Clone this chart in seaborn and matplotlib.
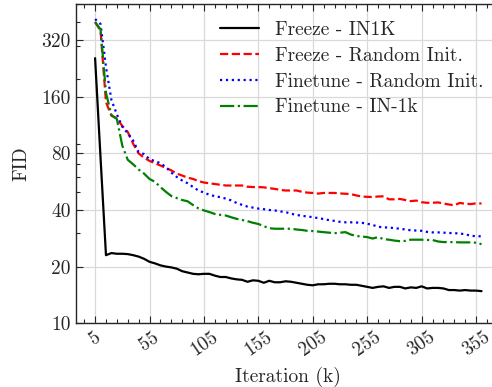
import numpy as np
import pandas as pd
import seaborn as sns
import matplotlib.pyplot as plt
from matplotlib.ticker import AutoMinorLocator

# iterations (k), every 5k from 5 to 360
iters = list(range(5, 361, 5))

freeze_in1k = [
    257, 76, 23.0, 23.6, 23.4, 23.4, 23.3, 23.0, 22.6, 22.0,
    21.2, 20.8, 20.3, 20.0, 19.8, 19.5, 18.9, 18.6, 18.3, 18.2,
    18.3, 18.3, 17.9, 17.6, 17.6, 17.3, 17.1, 17.0, 16.6, 16.9,
    16.8, 16.4, 16.8, 16.5, 16.5, 16.7, 16.6, 16.4, 16.2, 16.0,
    15.9, 16.1, 16.1, 16.2, 16.2, 16.1, 16.1, 16.0, 16.0, 15.8,
    15.6, 15.4, 15.6, 15.7, 15.4, 15.6, 15.6, 15.3, 15.5, 15.4,
    15.7, 15.3, 15.4, 15.4, 15.3, 15.0, 15.0, 14.9, 15.0, 14.9,
    14.9, 14.8,
]

freeze_random = [
    400, 360, 150, 127, 123, 112, 104, 90, 80, 76,
    73, 71, 69, 67, 65, 62.5, 61, 59.5, 58.5, 57,
    56, 55.5, 55, 54.5, 54, 54, 54, 54, 53.2, 53,
    53, 52.8, 52.3, 51.8, 51.2, 50.8, 50.8, 50.8, 50, 49.5,
    49.3, 48.9, 49.3, 49.3, 49.3, 49.0, 48.8, 48.6, 47.8, 47.2,
    47.0, 46.9, 47.2, 47.3, 45.6, 45.6, 45.8, 45.2, 44.6, 44.9,
    44.0, 43.7, 43.7, 43.9, 43.3, 42.8, 42.4, 43.6, 43.2, 43.0,
    43.4, 43.3,
]

finetune_random = [
    415, 391, 231, 154, 129, 111, 102.5, 93.6, 81.3, 79.3,
    74.6, 72.8, 71, 67.7, 63.3, 60, 57.4, 55.5, 53, 50.8,
    49.5, 48.2, 47.4, 46.8, 46.0, 45, 43.6, 42.6, 41.7, 41.2,
    40.7, 40.4, 40, 39.8, 39.3, 39.0, 38.2, 37.7, 37.2, 37.0,
    36.6, 36.2, 35.8, 35.3, 35.0, 34.6, 34.4, 34.4, 34.3, 34.2,
    33.8, 33.3, 32.6, 32.3, 32.3, 32.0, 31.8, 31.5, 31.2, 31.1,
    31.0, 30.6, 30.4, 30.4, 30.3, 30.2, 30.1, 30.0, 29.7, 29.2,
    29.0, 29.0,
]

finetune_in1k = [
    400, 366, 168, 128, 122, 88, 74, 70, 65.7, 62.5,
    58.5, 56.5, 53, 50, 47.5, 46.3, 45.2, 44.5, 42.5, 40.8,
    39.8, 39, 38.1, 37.7, 37.4, 36.6, 35.9, 35.4, 34.9, 34.2,
    33.7, 32.8, 32.0, 31.8, 31.8, 31.8, 31.8, 31.5, 31.3, 31.0,
    30.9, 30.7, 30.5, 30.3, 30.1, 30.3, 30.5, 29.6, 29.1, 28.9,
    28.7, 28.2, 28.7, 28.0, 27.8, 27.5, 27.3, 27.4, 27.8, 27.8,
    27.8, 27.7, 27.7, 27.2, 27.0, 27.0, 27.0, 26.9, 26.9, 26.9,
    26.8, 26.3,
]

y_ticks = [10, 20, 40, 80, 160, 320]
x_ticks = list(range(5, 361, 50))

sns.set_style("ticks")
plt.rcParams["font.family"] = ["cmr10", "DejaVu Serif"]
plt.rcParams["axes.formatter.use_mathtext"] = True
plt.rcParams["mathtext.fontset"] = "cm"
plt.rcParams["font.size"] = 14

fig = plt.figure(figsize=(4.92, 3.87), dpi=100)
ax = fig.add_axes([0.154, 0.165, 0.864, 0.825])

series = [
    ("Freeze - IN1K", freeze_in1k, "black", "-"),
    ("Freeze - Random Init.", freeze_random, "red", "--"),
    ("Finetune - Random Init.", finetune_random, "blue", ":"),
    ("Finetune - IN-1k", finetune_in1k, "green", "-."),
]
for label, vals, color, ls in series:
    sns.lineplot(x=iters, y=vals, ax=ax, color=color, linestyle=ls,
                 linewidth=1.6, label=label)

ax.set_yscale("log")
ax.set_ylim(10, 500)
ax.set_yticks(y_ticks, [str(t) for t in y_ticks])
ax.set_xticks(x_ticks, [str(t) for t in x_ticks], rotation=35)
ax.xaxis.set_minor_locator(AutoMinorLocator(5))

ax.grid(True, which="major", color="#d9d9d9", linewidth=0.9)
ax.set_axisbelow(True)
for s in ax.spines.values():
    s.set_linewidth(1.0)
ax.tick_params(which="both", direction="in", top=True, right=True, labelsize=14)
ax.tick_params(which="major", length=5, width=0.8)
ax.tick_params(which="minor", length=2.8, width=0.8)

ax.set_xlabel("Iteration (k)", fontsize=14, labelpad=5)
ax.set_ylabel("FID", fontsize=14, labelpad=8)
ax.legend(loc="upper right", frameon=False, handlelength=2.0,
          labelspacing=0.4, fontsize=14)

fig.savefig("out.png", dpi=100)
